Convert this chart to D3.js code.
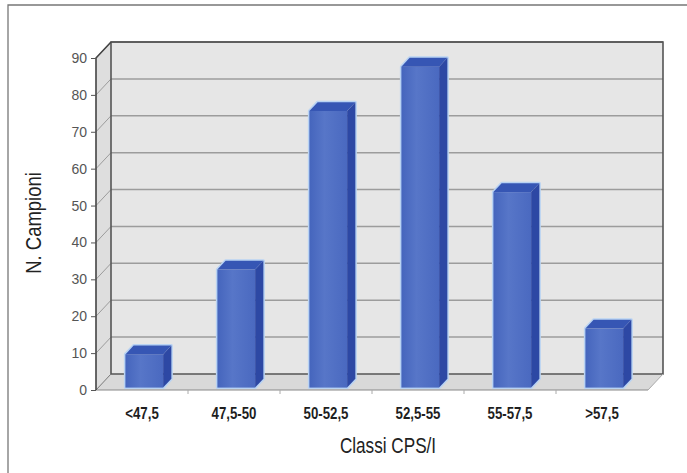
<!DOCTYPE html>
<html>
<head>
<meta charset="utf-8">
<script src="https://cdn.jsdelivr.net/npm/d3@7"></script>
<style>
  body { margin: 0; background: #fff; }
  svg { display: block; }
</style>
</head>
<body>
<svg id="chart" width="687" height="473"></svg>
<script>
// dati
const classi   = ["<47,5", "47,5-50", "50-52,5", "52,5-55", "55-57,5", ">57,5"];
const campioni = [9, 32, 75, 87, 53, 16];
const yTicks   = [0, 10, 20, 30, 40, 50, 60, 70, 80, 90];

const svg = d3.select("#chart");
const W = 687, H = 473;

/* piano frontale + profondità 3D */
const pLeft = 96, pRight = 648, pBottom = 390, pTop = 58;
const DX = 15, DY = -16;

const x = d3.scaleBand().domain(classi).range([pLeft, pRight]);
const y = d3.scaleLinear().domain([0, 90]).range([pBottom, pTop]);

const sans = "'Liberation Sans', Arial, sans-serif";

// cornice esterna
svg.append("path")
  .attr("d", `M8,${H} L8,5 L${W},5`)
  .attr("fill", "none").attr("stroke", "#777").attr("stroke-width", 1.3);

const defs = svg.append("defs");
const gFront = defs.append("linearGradient").attr("id", "front").attr("x1", 0).attr("x2", 1);
gFront.append("stop").attr("offset", "0%").attr("stop-color", "#4565bd");
gFront.append("stop").attr("offset", "40%").attr("stop-color", "#5776c8");
gFront.append("stop").attr("offset", "100%").attr("stop-color", "#4a69c0");

const g = svg.append("g");

// pareti: fondo, lato sinistro, pavimento
g.append("rect")
  .attr("x", pLeft + DX).attr("y", pTop + DY)
  .attr("width", pRight - pLeft).attr("height", pBottom - pTop)
  .attr("fill", "#e6e6e6");
g.append("path")
  .attr("d", `M${pLeft},${pTop} L${pLeft + DX},${pTop + DY} L${pLeft + DX},${pBottom + DY} L${pLeft},${pBottom} Z`)
  .attr("fill", "#dedede");
g.append("path")
  .attr("d", `M${pLeft},${pBottom} L${pLeft + DX},${pBottom + DY} L${pRight + DX},${pBottom + DY} L${pRight},${pBottom} Z`)
  .attr("fill", "#d9d9d9");

// griglia (fondo + lato)
yTicks.filter(t => t > 0).forEach(t => {
  const yy = y(t);
  g.append("line")
    .attr("x1", pLeft + DX).attr("x2", pRight + DX)
    .attr("y1", yy + DY).attr("y2", yy + DY)
    .attr("stroke", t === 90 ? "#555" : "#9c9c9c").attr("stroke-width", t === 90 ? 1.6 : 1.5);
  g.append("line")
    .attr("x1", pLeft).attr("y1", yy)
    .attr("x2", pLeft + DX).attr("y2", yy + DY)
    .attr("stroke", "#9c9c9c").attr("stroke-width", 1);
});

// bordi delle pareti
g.append("path")
  .attr("d", `M${pLeft + DX},${pBottom + DY} L${pLeft + DX},${pTop + DY} L${pRight + DX},${pTop + DY} L${pRight + DX},${pBottom + DY} L${pLeft + DX},${pBottom + DY}`)
  .attr("fill", "none").attr("stroke", "#555").attr("stroke-width", 1.6);
g.append("path")
  .attr("d", `M${pRight},${pBottom} L${pRight + DX},${pBottom + DY}`)
  .attr("stroke", "#aaa").attr("stroke-width", 1);
g.append("line")
  .attr("x1", pLeft).attr("x2", pLeft + DX)
  .attr("y1", pBottom).attr("y2", pBottom + DY)
  .attr("stroke", "#777").attr("stroke-width", 1);

// barre 3D
const f1 = 0.15, f2 = 0.7;
const bw = x.bandwidth() * 0.41;
const bars = g.selectAll(".bar").data(classi).enter().append("g").attr("class", "bar");
bars.each(function(c, i) {
  const v = campioni[i];
  const cx = x(c) + x.bandwidth() / 2 + DX * f1;
  const x0 = cx - bw / 2, x1 = cx + bw / 2;
  const yb = y(0) + DY * f1, yt = y(v) + DY * f1;
  const ox = DX * (f2 - f1), oy = DY * (f2 - f1);
  const sel = d3.select(this);
  const outline = `M${x0},${yb} L${x0},${yt} L${x0 + ox},${yt + oy} L${x1 + ox},${yt + oy} L${x1 + ox},${yb + oy} L${x1},${yb} Z`;
  sel.append("path").attr("d", outline)
    .attr("fill", "none").attr("stroke", "#b9d3f3").attr("stroke-width", 3).attr("stroke-linejoin", "round");
  sel.append("rect")
    .attr("x", x0).attr("y", yt).attr("width", bw).attr("height", yb - yt)
    .attr("fill", "url(#front)");
  sel.append("path")
    .attr("d", `M${x1},${yt} L${x1 + ox},${yt + oy} L${x1 + ox},${yb + oy} L${x1},${yb} Z`)
    .attr("fill", "#2d48a4");
  sel.append("path")
    .attr("d", `M${x0},${yt} L${x0 + ox},${yt + oy} L${x1 + ox},${yt + oy} L${x1},${yt} Z`)
    .attr("fill", "#3656b4");
});

// assi frontali
g.append("line")
  .attr("x1", pLeft).attr("x2", pRight)
  .attr("y1", pBottom).attr("y2", pBottom)
  .attr("stroke", "#888").attr("stroke-width", 1);
g.append("path")
  .attr("d", `M${pLeft},${pBottom} L${pLeft},${pTop} L${pLeft + DX},${pTop + DY}`)
  .attr("fill", "none").attr("stroke", "#444").attr("stroke-width", 1.6);

// asse y
const yAxis = g.append("g")
  .attr("transform", `translate(${pLeft},0)`)
  .call(d3.axisLeft(y).tickValues(yTicks).tickSize(5).tickPadding(4));
yAxis.select(".domain").remove();
yAxis.selectAll("line").attr("stroke", "#555");
yAxis.selectAll("text")
  .attr("font-family", sans)
  .attr("font-size", 14).attr("fill", "#555");

// asse x (testo condensato)
const xAxis = g.append("g")
  .attr("transform", `translate(0,${pBottom})`)
  .call(d3.axisBottom(x).tickSize(0).tickPadding(17));
xAxis.select(".domain").remove();
xAxis.selectAll("text")
  .attr("font-family", sans).attr("font-weight", "bold")
  .attr("font-size", 17).attr("fill", "#1e1e1e")
  .attr("transform", "scale(0.78,1)");
g.selectAll(".xtick").data(classi.slice(1)).enter().append("line")
  .attr("x1", c => x(c)).attr("x2", c => x(c))
  .attr("y1", pBottom).attr("y2", pBottom + 4)
  .attr("stroke", "#aaa");

// titoli
svg.append("text")
  .attr("transform", `translate(${(pLeft + pRight) / 2 + 16},453) scale(0.78,1)`)
  .attr("text-anchor", "middle")
  .attr("font-family", sans).attr("font-size", 22).attr("fill", "#222")
  .text("Classi CPS/I");
svg.append("text")
  .attr("transform", "translate(41,223) rotate(-90) scale(0.84,1)")
  .attr("text-anchor", "middle")
  .attr("font-family", sans).attr("font-size", 22).attr("fill", "#222")
  .text("N. Campioni");
</script>
</body>
</html>
